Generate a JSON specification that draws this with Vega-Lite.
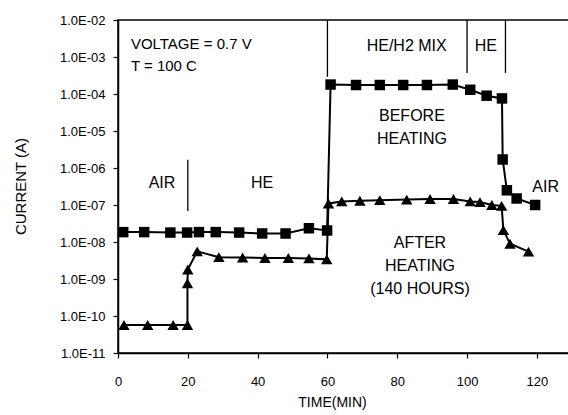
{
  "$schema": "https://vega.github.io/schema/vega-lite/v6.json",
  "width": 451,
  "height": 333,
  "autosize": {"type": "none"},
  "padding": {"left": 118, "top": 20, "right": 0, "bottom": 62},
  "background": "white",
  "config": {
    "view": {"stroke": "black", "strokeWidth": 1.5},
    "font": "Liberation Sans",
    "axis": {"labelFont": "Liberation Sans", "titleFont": "Liberation Sans", "labelColor": "black", "titleColor": "black", "domainColor": "black", "tickColor": "black", "labelFontSize": 13, "titleFontSize": 14, "titleFontWeight": "normal", "grid": false, "domainWidth": 1.5, "tickWidth": 1.2}
  },
  "datasets": {
    "pts": [
      {"series": "before", "seq": 1, "t": 1.5, "current": 1.85e-8},
      {"series": "before", "seq": 2, "t": 7.5, "current": 1.85e-8},
      {"series": "before", "seq": 3, "t": 15, "current": 1.8e-8},
      {"series": "before", "seq": 4, "t": 19.8, "current": 1.8e-8},
      {"series": "before", "seq": 5, "t": 23.2, "current": 1.85e-8},
      {"series": "before", "seq": 6, "t": 28, "current": 1.85e-8},
      {"series": "before", "seq": 7, "t": 34.7, "current": 1.8e-8},
      {"series": "before", "seq": 8, "t": 41.3, "current": 1.7e-8},
      {"series": "before", "seq": 9, "t": 48, "current": 1.7e-8},
      {"series": "before", "seq": 10, "t": 54.7, "current": 2.35e-8},
      {"series": "before", "seq": 11, "t": 59.9, "current": 2.05e-8},
      {"series": "before", "seq": 12, "t": 60.9, "current": 1.8e-4},
      {"series": "before", "seq": 13, "t": 68.2, "current": 1.75e-4},
      {"series": "before", "seq": 14, "t": 75, "current": 1.75e-4},
      {"series": "before", "seq": 15, "t": 81.7, "current": 1.75e-4},
      {"series": "before", "seq": 16, "t": 88.5, "current": 1.75e-4},
      {"series": "before", "seq": 17, "t": 95.9, "current": 1.8e-4},
      {"series": "before", "seq": 18, "t": 100.9, "current": 1.3e-4},
      {"series": "before", "seq": 19, "t": 105.6, "current": 9e-5},
      {"series": "before", "seq": 20, "t": 110, "current": 7.6e-5},
      {"series": "before", "seq": 21, "t": 110.2, "current": 1.7e-6},
      {"series": "before", "seq": 22, "t": 111.4, "current": 2.5e-7},
      {"series": "before", "seq": 23, "t": 114.2, "current": 1.5e-7},
      {"series": "before", "seq": 24, "t": 119.5, "current": 1.0e-7},
      {"series": "after", "seq": 1, "t": 1.7, "current": 5.7e-11},
      {"series": "after", "seq": 2, "t": 8.5, "current": 5.7e-11},
      {"series": "after", "seq": 3, "t": 15.8, "current": 5.7e-11},
      {"series": "after", "seq": 4, "t": 19.9, "current": 5.7e-11},
      {"series": "after", "seq": 5, "t": 19.9, "current": 7.7e-10},
      {"series": "after", "seq": 6, "t": 20.0, "current": 1.8e-9},
      {"series": "after", "seq": 7, "t": 22.7, "current": 5.6e-9},
      {"series": "after", "seq": 8, "t": 28.9, "current": 3.9e-9},
      {"series": "after", "seq": 9, "t": 35.7, "current": 3.8e-9},
      {"series": "after", "seq": 10, "t": 42.1, "current": 3.7e-9},
      {"series": "after", "seq": 11, "t": 48.8, "current": 3.7e-9},
      {"series": "after", "seq": 12, "t": 54.7, "current": 3.6e-9},
      {"series": "after", "seq": 13, "t": 59.8, "current": 3.4e-9},
      {"series": "after", "seq": 14, "t": 60.3, "current": 1.1e-7},
      {"series": "after", "seq": 15, "t": 64.1, "current": 1.25e-7},
      {"series": "after", "seq": 16, "t": 69.3, "current": 1.3e-7},
      {"series": "after", "seq": 17, "t": 75, "current": 1.35e-7},
      {"series": "after", "seq": 18, "t": 82.7, "current": 1.4e-7},
      {"series": "after", "seq": 19, "t": 89.4, "current": 1.45e-7},
      {"series": "after", "seq": 20, "t": 96.1, "current": 1.45e-7},
      {"series": "after", "seq": 21, "t": 100.9, "current": 1.25e-7},
      {"series": "after", "seq": 22, "t": 103.7, "current": 1.2e-7},
      {"series": "after", "seq": 23, "t": 107.1, "current": 1.0e-7},
      {"series": "after", "seq": 24, "t": 109.9, "current": 9.5e-8},
      {"series": "after", "seq": 25, "t": 110.4, "current": 2.1e-8},
      {"series": "after", "seq": 26, "t": 112.3, "current": 9e-9},
      {"series": "after", "seq": 27, "t": 117.6, "current": 5.5e-9}
    ],
    "leftlabels": [
      {"text": "VOLTAGE = 0.7 V", "t": 3.7, "current": 2.25e-3},
      {"text": "T = 100 C", "t": 3.7, "current": 5.7e-4}
    ],
    "labels": [
      {"text": "AIR", "t": 12.6, "current": 3.9e-7},
      {"text": "HE", "t": 41.3, "current": 3.9e-7},
      {"text": "HE/H2 MIX", "t": 82.7, "current": 2.0e-3},
      {"text": "HE", "t": 105.4, "current": 2.0e-3},
      {"text": "BEFORE", "t": 84.2, "current": 2.6e-5},
      {"text": "HEATING", "t": 84.2, "current": 6.0e-6},
      {"text": "AIR", "t": 122.5, "current": 3.1e-7},
      {"text": "AFTER", "t": 86.5, "current": 9.3e-9},
      {"text": "HEATING", "t": 86.5, "current": 2.2e-9},
      {"text": "(140 HOURS)", "t": 86.5, "current": 5.4e-10}
    ],
    "seps": [
      {"t": 20, "top": 1.66e-6, "bottom": 6.9e-8},
      {"t": 60, "top": 1e-2, "bottom": 2.9e-4},
      {"t": 100, "top": 1e-2, "bottom": 3.7e-4},
      {"t": 111, "top": 1e-2, "bottom": 3.7e-4}
    ]
  },
  "layer": [
    {
      "data": {"name": "seps"},
      "mark": {"type": "rule", "color": "black", "strokeWidth": 1.3},
      "encoding": {
        "x": {"field": "t", "type": "quantitative", "scale": {"domain": [0, 129.2], "nice": false, "zero": false}},
        "y": {"field": "top", "type": "quantitative", "scale": {"type": "log", "domain": [1e-11, 1e-2], "nice": false}},
        "y2": {"field": "bottom"}
      }
    },
    {
      "data": {"name": "pts"},
      "mark": {"type": "line", "color": "black", "strokeWidth": 2},
      "encoding": {
        "x": {"field": "t", "type": "quantitative", "scale": {"domain": [0, 129.2], "nice": false, "zero": false},
          "axis": {"values": [0, 20, 40, 60, 80, 100, 120], "title": "TIME(MIN)", "tickSize": 5, "labelPadding": 17, "titlePadding": 7, "labelFlush": false, "titleX": 214, "titleAnchor": null}},
        "y": {"field": "current", "type": "quantitative", "scale": {"type": "log", "domain": [1e-11, 1e-2], "nice": false},
          "axis": {"values": [1e-11, 1e-10, 1e-9, 1e-8, 1e-7, 1e-6, 1e-5, 1e-4, 1e-3, 1e-2], "title": "CURRENT (A)", "tickSize": 5, "labelPadding": 8,
            "labelExpr": "'1.0E-' + (round(-log(datum.value)/LN10) < 10 ? '0' : '') + round(-log(datum.value)/LN10)",
            "titleX": -98, "titleY": 166, "titleAngle": 270, "titleAlign": "center", "titleBaseline": "middle", "titleFontSize": 15}},
        "detail": {"field": "series"},
        "order": {"field": "seq", "type": "quantitative"}
      }
    },
    {
      "data": {"name": "pts"},
      "mark": {"type": "point", "filled": true, "color": "black", "opacity": 1},
      "encoding": {
        "x": {"field": "t", "type": "quantitative"},
        "y": {"field": "current", "type": "quantitative"},
        "shape": {"field": "series", "type": "nominal", "scale": {"domain": ["before", "after"], "range": ["square", "triangle-up"]}, "legend": null},
        "size": {"field": "series", "type": "nominal", "scale": {"domain": ["before", "after"], "range": [110, 130]}, "legend": null}
      }
    },
    {
      "data": {"name": "labels"},
      "mark": {"type": "text", "fontSize": 16, "color": "black", "baseline": "middle", "align": "center", "font": "Liberation Sans"},
      "encoding": {
        "x": {"field": "t", "type": "quantitative"},
        "y": {"field": "current", "type": "quantitative"},
        "text": {"field": "text"}
      }
    },
    {
      "data": {"name": "leftlabels"},
      "mark": {"type": "text", "fontSize": 15, "color": "black", "baseline": "middle", "align": "left", "font": "Liberation Sans"},
      "encoding": {
        "x": {"field": "t", "type": "quantitative"},
        "y": {"field": "current", "type": "quantitative"},
        "text": {"field": "text"}
      }
    }
  ]
}
